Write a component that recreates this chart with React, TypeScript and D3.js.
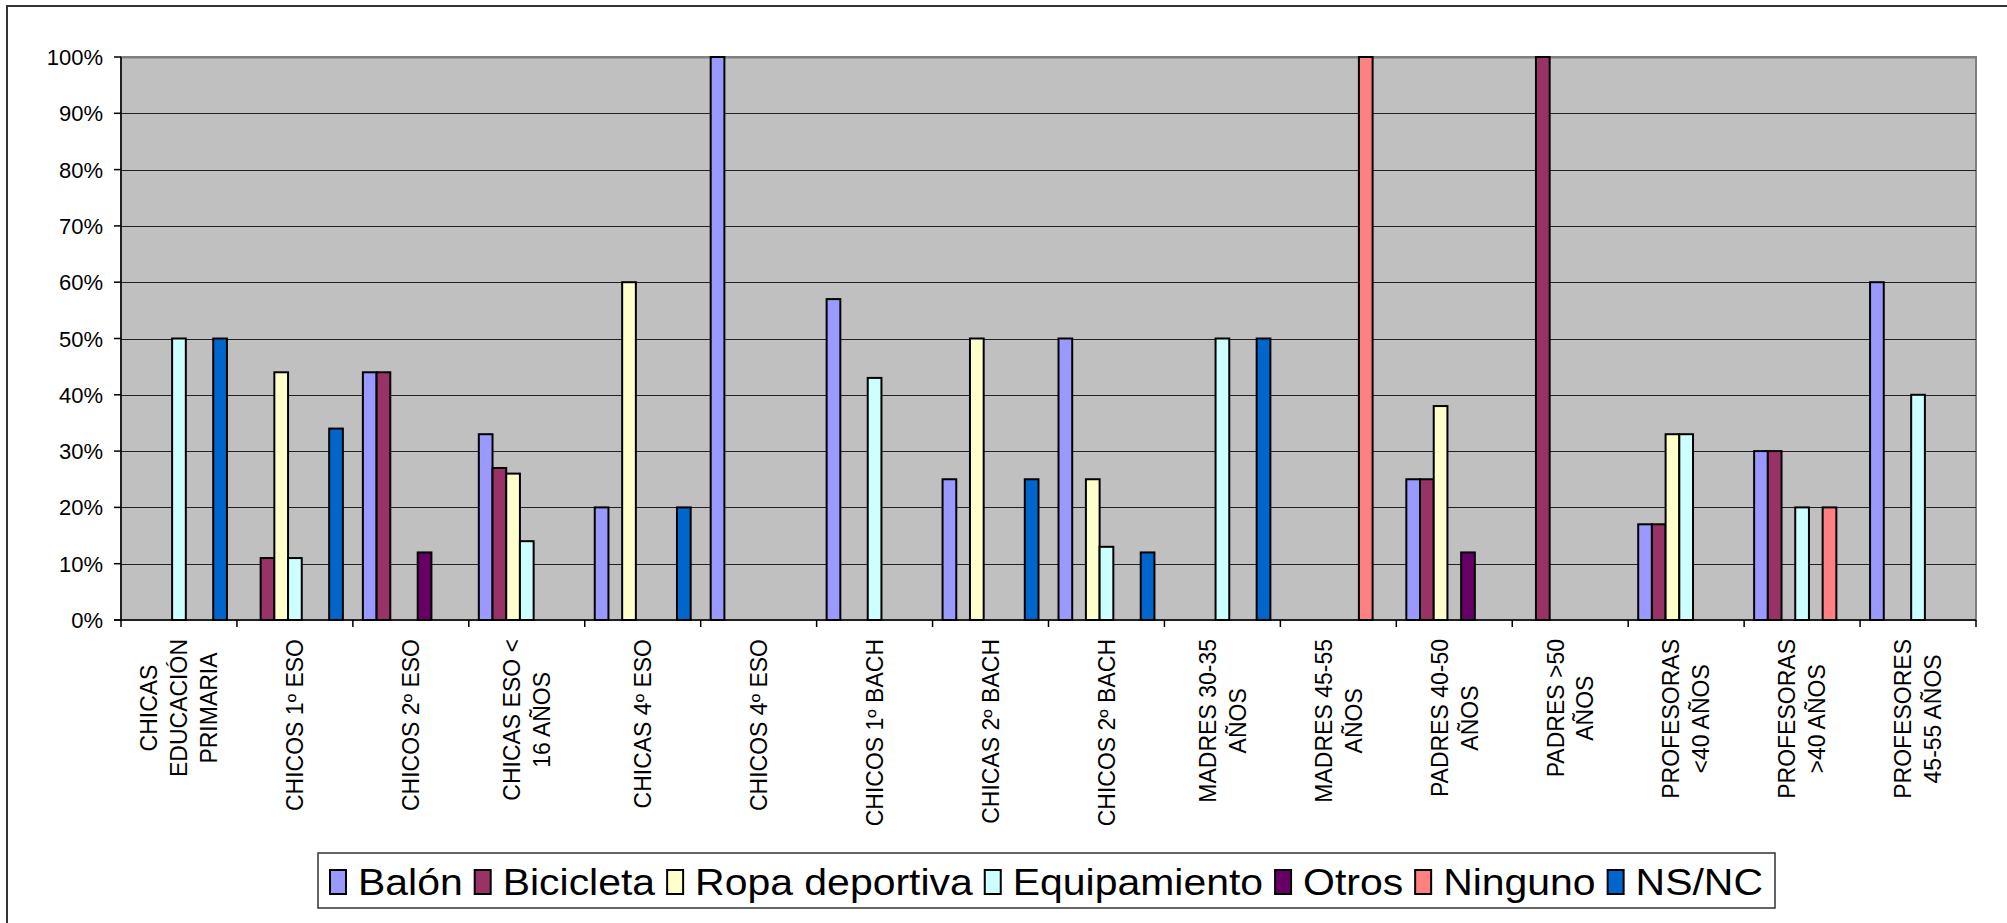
import React, { useEffect, useRef } from "react";
import * as d3 from "d3";

const categories: string[][] = [
  ["CHICAS", "EDUCACIÓN", "PRIMARIA"],
  ["CHICOS 1º ESO"],
  ["CHICOS 2º ESO"],
  ["CHICAS ESO <", "16 AÑOS"],
  ["CHICAS 4º ESO"],
  ["CHICOS 4º ESO"],
  ["CHICOS 1º BACH"],
  ["CHICAS 2º BACH"],
  ["CHICOS 2º BACH"],
  ["MADRES 30-35", "AÑOS"],
  ["MADRES 45-55", "AÑOS"],
  ["PADRES 40-50", "AÑOS"],
  ["PADRES >50", "AÑOS"],
  ["PROFESORAS", "<40 AÑOS"],
  ["PROFESORAS", ">40 AÑOS"],
  ["PROFESORES", "45-55 AÑOS"],
];

const seriesNames = ["Balón", "Bicicleta", "Ropa deportiva", "Equipamiento", "Otros", "Ninguno", "NS/NC"];
const seriesColors = ["#9999FF", "#993366", "#FFFFCC", "#CCFFFF", "#660066", "#FF8080", "#0066CC"];

const balon = [0, 0, 44, 33, 20, 100, 57, 25, 50, 0, 0, 25, 0, 17, 30, 60];
const bicicleta = [0, 11, 44, 27, 0, 0, 0, 0, 0, 0, 0, 25, 100, 17, 30, 0];
const ropaDeportiva = [0, 44, 0, 26, 60, 0, 0, 50, 25, 0, 0, 38, 0, 33, 0, 0];
const equipamiento = [50, 11, 0, 14, 0, 0, 43, 0, 13, 50, 0, 0, 0, 33, 20, 40];
const otros = [0, 0, 12, 0, 0, 0, 0, 0, 0, 0, 0, 12, 0, 0, 0, 0];
const ninguno = [0, 0, 0, 0, 0, 0, 0, 0, 0, 0, 100, 0, 0, 0, 20, 0];
const nsnc = [50, 34, 0, 0, 20, 0, 0, 25, 12, 50, 0, 0, 0, 0, 0, 0];

const seriesValues = [balon, bicicleta, ropaDeportiva, equipamiento, otros, ninguno, nsnc];
const yTicks = [0, 10, 20, 30, 40, 50, 60, 70, 80, 90, 100];

export default function App() {
  const ref = useRef<SVGSVGElement>(null);

  useEffect(() => {
    document.body.style.margin = "0";
    const svg = d3.select(ref.current as SVGSVGElement);
    svg.selectAll("*").remove();
    const font = "Arial, 'Liberation Sans', sans-serif";

    const plot = { left: 121, right: 1976, top: 57, bottom: 620 };
    const x0 = d3
      .scaleBand<number>()
      .domain(d3.range(categories.length))
      .range([plot.left, plot.right])
      .padding(0);
    const x1 = d3
      .scaleBand<number>()
      .domain(d3.range(seriesNames.length))
      .range([0, x0.bandwidth()])
      .paddingInner(0)
      .paddingOuter(0.73);
    const y = d3.scaleLinear().domain([0, 100]).range([plot.bottom, plot.top]);

    // outer chart border
    svg
      .append("rect")
      .attr("x", 7)
      .attr("y", 6)
      .attr("width", 2100)
      .attr("height", 1000)
      .attr("fill", "#fff")
      .attr("stroke", "#333")
      .attr("stroke-width", 2);

    // plot background
    svg
      .append("rect")
      .attr("x", plot.left)
      .attr("y", plot.top)
      .attr("width", plot.right - plot.left)
      .attr("height", plot.bottom - plot.top)
      .attr("fill", "#C0C0C0")
      .attr("stroke", "#808080")
      .attr("stroke-width", 2);

    // gridlines
    svg
      .append("g")
      .selectAll("line")
      .data(yTicks.filter((t) => t > 0))
      .join("line")
      .attr("x1", plot.left)
      .attr("x2", plot.right)
      .attr("y1", (d) => Math.round(y(d)) + 0.5)
      .attr("y2", (d) => Math.round(y(d)) + 0.5)
      .attr("stroke", (d) => (d === 100 ? "#808080" : "#222"))
      .attr("stroke-width", (d) => (d === 100 ? 2 : 1));

    // bars
    const groups = svg
      .append("g")
      .selectAll("g")
      .data(seriesValues)
      .join("g")
      .attr("fill", (_, i) => seriesColors[i]);
    groups.each(function (vals, si) {
      d3.select(this)
        .selectAll("rect")
        .data(vals.map((v, ci) => ({ v, ci })).filter((d) => d.v > 0))
        .join("rect")
        .attr("x", (d) => (x0(d.ci) as number) + (x1(si) as number))
        .attr("width", x1.bandwidth())
        .attr("y", (d) => y(d.v))
        .attr("height", (d) => y(0) - y(d.v))
        .attr("stroke", "#000")
        .attr("stroke-width", 2);
    });

    // axes lines
    svg
      .append("line")
      .attr("x1", plot.left)
      .attr("x2", plot.left)
      .attr("y1", plot.top)
      .attr("y2", plot.bottom)
      .attr("stroke", "#000")
      .attr("stroke-width", 1.5);
    svg
      .append("line")
      .attr("x1", plot.left - 7)
      .attr("x2", plot.right)
      .attr("y1", plot.bottom)
      .attr("y2", plot.bottom)
      .attr("stroke", "#000")
      .attr("stroke-width", 1.5);

    // y ticks + labels
    const yAxis = svg.append("g");
    yAxis
      .selectAll("line")
      .data(yTicks)
      .join("line")
      .attr("x1", plot.left - 7)
      .attr("x2", plot.left)
      .attr("y1", (d) => y(d))
      .attr("y2", (d) => y(d))
      .attr("stroke", "#000")
      .attr("stroke-width", 1.5);
    yAxis
      .selectAll("text")
      .data(yTicks)
      .join("text")
      .attr("x", plot.left - 18)
      .attr("y", (d) => y(d) + 8)
      .attr("text-anchor", "end")
      .attr("font-family", font)
      .attr("font-size", 22)
      .attr("fill", "#000")
      .text((d) => `${d}%`);

    // x ticks
    svg
      .append("g")
      .selectAll("line")
      .data(d3.range(categories.length + 1))
      .join("line")
      .attr("x1", (d) => plot.left + d * x0.step())
      .attr("x2", (d) => plot.left + d * x0.step())
      .attr("y1", plot.bottom)
      .attr("y2", plot.bottom + 7)
      .attr("stroke", "#000")
      .attr("stroke-width", 1.5);

    // x labels (rotated)
    const fs = 23;
    const lh = 30;
    const labelTop = 639;
    categories.forEach((lines, ci) => {
      const cx = (x0(ci) as number) + x0.bandwidth() / 2;
      const g = svg
        .append("g")
        .attr("transform", `translate(${cx},${labelTop}) rotate(-90)`);
      const texts = g
        .selectAll("text")
        .data(lines)
        .join("text")
        .attr("text-anchor", "middle")
        .attr("font-family", font)
        .attr("font-size", fs)
        .attr("fill", "#000")
        .attr("y", (_, i) => (i - (lines.length - 1) / 2) * lh + 0.36 * fs)
        .text((d) => d);
      let maxLen = 0;
      texts.each(function () {
        maxLen = Math.max(maxLen, (this as SVGTextElement).getComputedTextLength());
      });
      texts.attr("x", -maxLen / 2);
    });

    // legend
    const leg = { left: 318, right: 1775, top: 853, bottom: 908 };
    svg
      .append("rect")
      .attr("x", leg.left)
      .attr("y", leg.top)
      .attr("width", leg.right - leg.left)
      .attr("height", leg.bottom - leg.top)
      .attr("fill", "#fff")
      .attr("stroke", "#333")
      .attr("stroke-width", 1.5);
    const legG = svg.append("g");
    const lt = legG
      .selectAll("text")
      .data(seriesNames)
      .join("text")
      .attr("font-family", font)
      .attr("font-size", 36)
      .attr("fill", "#000")
      .attr("y", 895)
      .text((d) => d);
    const widths: number[] = [];
    lt.each(function () {
      widths.push((this as SVGTextElement).getComputedTextLength());
    });
    const padL = 12, sw = 16, gapT = 12, gapI = 12, padR = 12;
    const fixed = padL + padR + seriesNames.length * (sw + gapT) + (seriesNames.length - 1) * gapI;
    const stretch = (leg.right - leg.left - fixed) / d3.sum(widths);
    let cursor = leg.left + padL;
    const swX: number[] = [];
    const txX: number[] = [];
    widths.forEach((w) => {
      swX.push(cursor);
      txX.push(cursor + sw + gapT);
      cursor += sw + gapT + w * stretch + gapI;
    });
    lt.attr("x", (_, i) => txX[i])
      .attr("textLength", (_, i) => widths[i] * stretch)
      .attr("lengthAdjust", "spacingAndGlyphs");
    legG
      .selectAll("rect")
      .data(seriesNames)
      .join("rect")
      .attr("x", (_, i) => swX[i])
      .attr("y", 870)
      .attr("width", sw)
      .attr("height", 24)
      .attr("fill", (_, i) => seriesColors[i])
      .attr("stroke", "#000")
      .attr("stroke-width", 2);
  }, []);

  return (
    <svg
      ref={ref}
      width={2007}
      height={923}
      style={{ position: "absolute", left: 0, top: 0, display: "block" }}
    />
  );
}
